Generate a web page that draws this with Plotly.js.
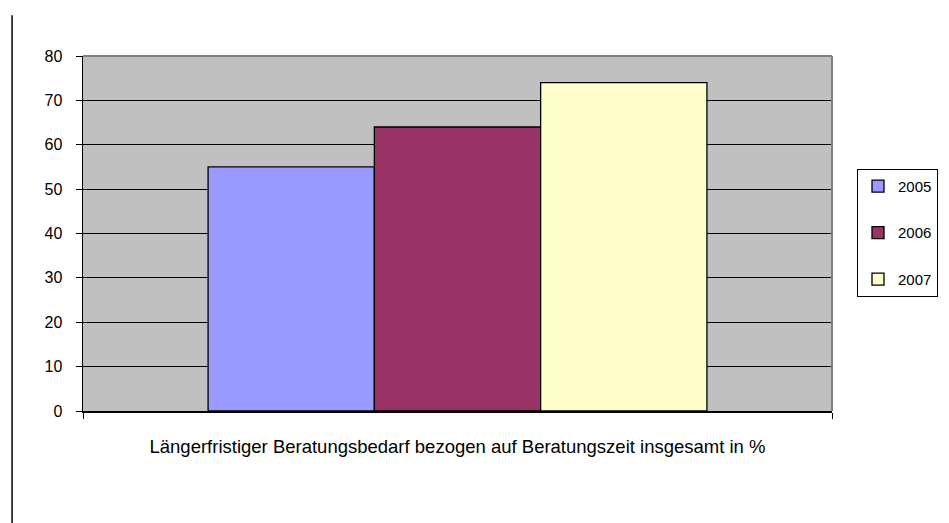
<!DOCTYPE html>
<html><head><meta charset="utf-8">
<script src="https://cdn.plot.ly/plotly-3.0.1.min.js"></script>
<style>html,body{margin:0;padding:0;background:#fff;}#chart{width:949px;height:523px;}</style>
</head><body><div id="chart"></div>
<script>
const category = ["Längerfristiger Beratungsbedarf bezogen auf Beratungszeit insgesamt in %"];
const seriesNames = ["2005", "2006", "2007"];
const seriesValues = [[55], [64], [74]];
const seriesColors = ["#9999FF", "#993366", "#FFFFCC"];
const yTicks = [0, 10, 20, 30, 40, 50, 60, 70, 80];

const traces = seriesNames.map((n, i) => ({
  type: "bar", name: n, x: ["c"], y: seriesValues[i],
  marker: {color: seriesColors[i], line: {color: "#000", width: 1.3}},
  legendgroup: "g" + i, hoverinfo: "none"
}));

const layout = {
  width: 949, height: 523,
  margin: {l: 83, r: 116, t: 56, b: 112},
  paper_bgcolor: "#ffffff", plot_bgcolor: "#C0C0C0",
  font: {family: "Liberation Sans, Arial, sans-serif", size: 16, color: "#000"},
  barmode: "group", bargap: 0.334, bargroupgap: 0,
  showlegend: true,
  legend: {x: 1.032, y: 0.682, xanchor: "left", yanchor: "top",
    bordercolor: "#000", borderwidth: 1, bgcolor: "#fff",
    traceorder: "grouped", tracegroupgap: 24, font: {size: 15}},
  xaxis: {type: "category", showticklabels: false, ticks: "outside", tickson: "boundaries",
    ticklen: 6, tickcolor: "#000", showline: true, linecolor: "#000", linewidth: 2,
    showgrid: false, zeroline: false, fixedrange: true,
    title: {text: category[0], standoff: 28, font: {size: 18.5}}},
  yaxis: {range: [0, 80], tickvals: yTicks, ticktext: yTicks.map(String), ticks: "outside",
    ticklen: 6, tickcolor: "#000", showline: true, linecolor: "#000", linewidth: 1.5,
    ticklabelstandoff: 10, tickfont: {size: 16},
    showgrid: true, gridcolor: "#000", gridwidth: 1.2, zeroline: false, fixedrange: true},
  shapes: [
    {type: "line", xref: "paper", yref: "paper", x0: 0, x1: 1, y0: 1, y1: 1, line: {color: "#808080", width: 2}},
    {type: "line", xref: "paper", yref: "paper", x0: 1, x1: 1, y0: 0, y1: 1, line: {color: "#808080", width: 2}},
    {type: "line", xref: "paper", yref: "paper", x0: -0.0947, x1: -0.0947, y0: 1.115, y1: -0.32, line: {color: "#000", width: 1.5}}
  ]
};
Plotly.newPlot("chart", traces, layout, {staticPlot: true, displayModeBar: false});
</script></body></html>
